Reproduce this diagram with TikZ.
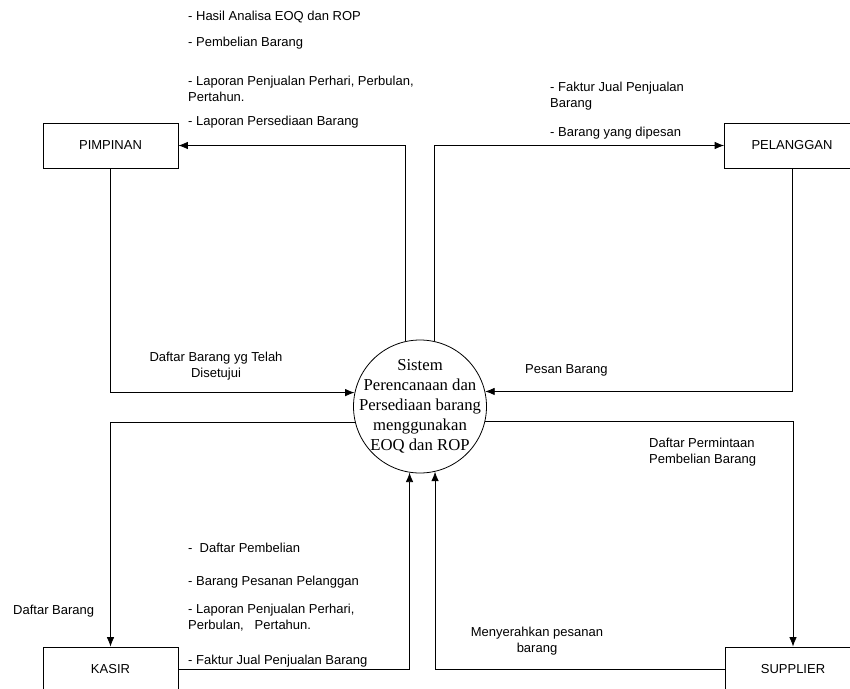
\documentclass[tikz,border=0pt]{standalone}
\usepackage{fontspec}
\setmainfont{Liberation Sans}
\newfontfamily\procfont{Liberation Serif}
\usetikzlibrary{arrows.meta}
\begin{document}
\begin{tikzpicture}[x=1pt,y=-1pt,
  entity/.style={draw,line width=0.8pt,minimum width=135pt,minimum height=45pt,inner sep=0pt,
                 font=\fontsize{13}{16}\selectfont},
  flow/.style={draw,line width=0.8pt,-{Latex[length=9.5pt,width=7.5pt]}},
  lbl/.style={anchor=base west,inner sep=0pt,align=left,font=\fontsize{13}{16.5}\selectfont},
  clbl/.style={anchor=base,inner sep=0pt,align=center,font=\fontsize{13}{16}\selectfont}]
\useasboundingbox (0,0) rectangle (850,688);

% external entities
\node[entity] (pim) at (110.5,145.5) {PIMPINAN};
\node[entity] (pel) at (792,145.5) {PELANGGAN};
\node[entity] (kas) at (110.5,669.5) {KASIR};
\node[entity] (sup) at (793,669.5) {SUPPLIER};

% process
\node[circle,draw,line width=0.8pt,minimum size=133pt,inner sep=0pt] (sys) at (420,406.5) {};
\node[align=center,inner sep=0pt,font=\procfont\fontsize{16.7}{20}\selectfont] (systxt) at (sys.center)
  {Sistem\\Perencanaan dan\\Persediaan barang\\menggunakan\\EOQ dan ROP};

% data flows
\draw[flow] (sys.103) |- (pim.east);
\draw[flow] (sys.78) |- (pel.west);
\draw[flow] (pim.south) |- (sys.168);
\draw[flow] (pel.south) |- (sys.13);
\draw[flow] (sys.194) -| (kas.north);
\draw[flow] (sys.347) -| (sup.north);
\draw[flow] (kas.east) -| (sys.261);
\draw[flow] (sup.west) -| (sys.283);

% flow labels (base anchor sits on the last line of each label)
\node[lbl] (l1) at (188,20.7) {- Hasil Analisa EOQ dan ROP};
\node[lbl] (l2) at (188,46.5) {- Pembelian Barang};
\node[lbl] (l3) at (188,101.5) {- Laporan Penjualan Perhari, Perbulan,\\Pertahun.};
\node[lbl] (l4) at (188,125.5) {- Laporan Persediaan Barang};

\node[lbl] (r1) at (550,107.5) {- Faktur Jual Penjualan\\Barang};
\node[lbl] (r2) at (550,136.7) {- Barang yang dipesan};

\node[clbl] (dbs) at (216,377.7) {Daftar Barang yg Telah\\Disetujui};
\node[lbl] (psn) at (525,373.7) {Pesan Barang};
\node[lbl] (dpp) at (649,463.5) {Daftar Permintaan\\Pembelian Barang};

\node[lbl] (b1) at (188,552.7) {-\ \ Daftar Pembelian};
\node[lbl] (b2) at (188,585.7) {- Barang Pesanan Pelanggan};
\node[lbl] (b3) at (188,629.7) {- Laporan Penjualan Perhari,\\Perbulan,\ \ \ Pertahun.};
\node[lbl] (b4) at (188,664.7) {- Faktur Jual Penjualan Barang};

\node[lbl] (db) at (13,614.7) {Daftar Barang};
\node[clbl] (msp) at (537,652.7) {Menyerahkan pesanan\\barang};
\end{tikzpicture}
\end{document}
